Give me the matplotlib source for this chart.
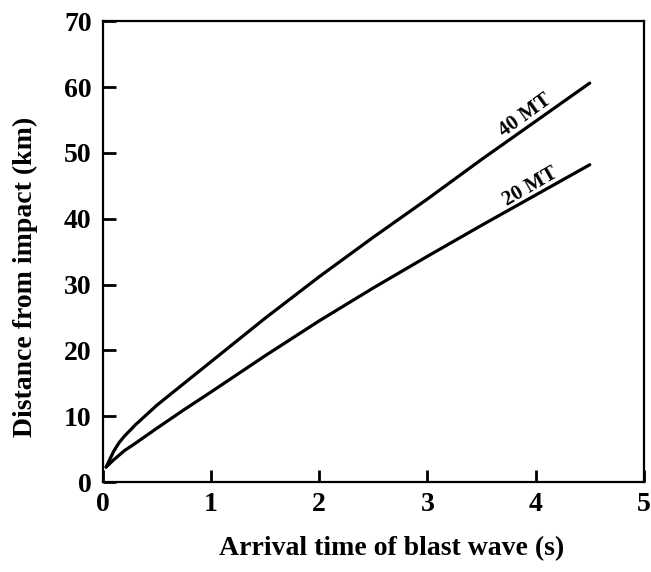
import matplotlib
matplotlib.use('Agg')
from matplotlib import pyplot as plt

# Dane.
times = [0.03, 0.1, 0.15, 0.2, 0.3, 0.5, 0.75, 1.0, 1.5, 2.0, 2.5, 3.0, 3.5, 4.0, 4.5]
dist_40mt = [2.3, 4.7, 6.0, 7.0, 8.7, 11.7, 15.0, 18.3, 24.9, 31.2, 37.2, 43.0, 49.0, 54.8, 60.6]
dist_20mt = [2.3, 3.4, 4.1, 4.8, 5.9, 8.2, 11.0, 13.7, 19.2, 24.5, 29.5, 34.3, 39.0, 43.6, 48.2]

x_ticks = [0, 1, 2, 3, 4, 5]
y_ticks = [0, 10, 20, 30, 40, 50, 60, 70]

plt.rcParams['font.family'] = ['Liberation Serif', 'DejaVu Serif']
plt.rcParams['font.weight'] = 'bold'

fig = plt.figure(figsize=(6.51, 5.72), dpi=100)
ax = fig.add_axes([0.158, 0.157, 0.831, 0.806])

ax.plot(times, dist_40mt, color='black', linewidth=2.3, solid_capstyle='round')
ax.plot(times, dist_20mt, color='black', linewidth=2.3, solid_capstyle='round')

ax.text(3.9, 55.7, '40 MT', rotation=36, fontsize=15, fontweight='bold',
        ha='center', va='center', rotation_mode='anchor')
ax.text(3.95, 44.9, '20 MT', rotation=30, fontsize=15, fontweight='bold',
        ha='center', va='center', rotation_mode='anchor')

ax.set_xlim(0, 5)
ax.set_ylim(0, 70)
ax.set_xticks(x_ticks)
ax.set_yticks(y_ticks)
ax.set_xticklabels([str(v) for v in x_ticks])
ax.set_yticklabels([str(v) for v in y_ticks])
ax.tick_params(axis='both', direction='in', length=9, width=2, labelsize=20)
ax.tick_params(axis='x', pad=7)
ax.tick_params(axis='y', pad=8)
for s in ax.spines.values():
    s.set_linewidth(1.6)

ax.set_xlabel('Arrival time of blast wave (s)', fontsize=20, fontweight='bold')
ax.set_ylabel('Distance from impact (km)', fontsize=20, fontweight='bold')
ax.xaxis.set_label_coords(0.533, -0.117)
ax.xaxis.label.set_va('top')
ax.yaxis.set_label_coords(-0.12, 0.445)

fig.savefig('out.png', dpi=100)
